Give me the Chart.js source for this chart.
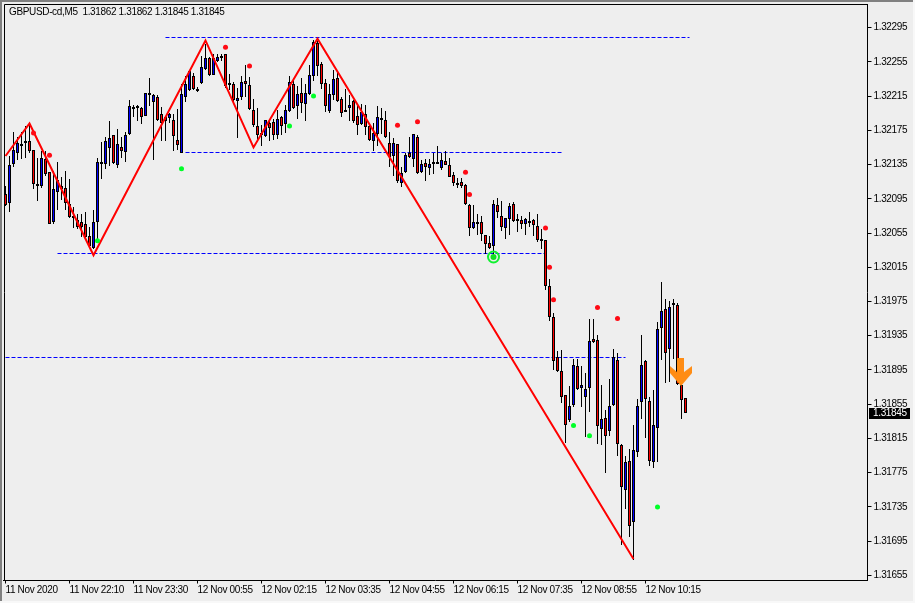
<!DOCTYPE html>
<html>
<head>
<meta charset="utf-8">
<title>GBPUSD-cd,M5</title>
<script src="https://cdn.jsdelivr.net/npm/chart.js@4"></script>
<style>
  html, body { margin: 0; padding: 0; background: #eeeeee; overflow: hidden; }
  canvas { display: block; }
</style>
</head>
<body>
<canvas id="price-chart" width="915" height="603"></canvas>
<script>
//Candles, oldest first
const opens = [1.32101,1.32090,1.32136,1.32149,1.32159,1.32163,1.32163,1.32152,1.32112,1.32110,
1.32142,1.32126,1.32068,1.32103,1.32110,1.32108,1.32089,1.32075,1.32070,1.32068,
1.32065,1.32052,1.32037,1.32068,1.32137,1.32136,1.32154,1.32170,1.32135,1.32156,
1.32150,1.32171,1.32202,1.32202,1.32201,1.32192,1.32216,1.32208,1.32214,1.32194,
1.32190,1.32189,1.32187,1.32164,1.32149,1.32214,1.32222,1.32238,1.32223,1.32230,
1.32247,1.32260,1.32240,1.32256,1.32262,1.32264,1.32230,1.32229,1.32209,1.32214,
1.32233,1.32228,1.32199,1.32180,1.32170,1.32168,1.32184,1.32185,1.32170,1.32191,
1.32182,1.32197,1.32229,1.32203,1.32219,1.32206,1.32217,1.32238,1.32277,1.32252,
1.32230,1.32197,1.32216,1.32236,1.32212,1.32199,1.32201,1.32209,1.32192,1.32182,
1.32194,1.32180,1.32162,1.32171,1.32189,1.32187,1.32160,1.32145,1.32159,1.32113,
1.32126,1.32148,1.32142,1.32167,1.32126,1.32137,1.32131,1.32137,1.32138,1.32131,
1.32139,1.32135,1.32123,1.32114,1.32115,1.32111,1.32088,1.32061,1.32065,1.32068,
1.32053,1.32043,1.32040,1.32088,1.32075,1.32061,1.32071,1.32089,1.32071,1.32070,
1.32065,1.32069,1.32070,1.32063,1.32048,1.32047,1.31993,1.31957,1.31910,1.31894,
1.31866,1.31836,1.31854,1.31900,1.31874,1.31863,1.31874,1.31931,1.31930,1.31826,
1.31839,1.31824,1.31854,1.31907,1.31807,1.31755,1.31789,1.31717,1.31799,1.31857,
1.31905,1.31859,1.31787,1.31827,1.31944,1.31966,1.31919,1.31973,1.31971,1.31877,1.31862];

const highs = [1.32110,1.32145,1.32173,1.32167,1.32173,1.32180,1.32182,1.32152,1.32143,1.32151,
1.32151,1.32126,1.32128,1.32138,1.32120,1.32128,1.32118,1.32085,1.32077,1.32077,
1.32079,1.32062,1.32082,1.32143,1.32161,1.32167,1.32186,1.32170,1.32177,1.32167,
1.32173,1.32210,1.32204,1.32204,1.32202,1.32219,1.32236,1.32217,1.32216,1.32202,
1.32192,1.32195,1.32194,1.32200,1.32229,1.32239,1.32244,1.32242,1.32226,1.32262,
1.32276,1.32261,1.32264,1.32264,1.32264,1.32264,1.32241,1.32231,1.32225,1.32239,
1.32251,1.32237,1.32212,1.32201,1.32181,1.32187,1.32187,1.32188,1.32199,1.32192,
1.32204,1.32239,1.32234,1.32227,1.32236,1.32229,1.32251,1.32280,1.32279,1.32255,
1.32235,1.32229,1.32245,1.32243,1.32214,1.32223,1.32216,1.32211,1.32206,1.32206,
1.32204,1.32183,1.32183,1.32203,1.32201,1.32197,1.32173,1.32166,1.32159,1.32132,
1.32149,1.32167,1.32171,1.32169,1.32140,1.32142,1.32142,1.32149,1.32157,1.32149,
1.32151,1.32143,1.32126,1.32119,1.32119,1.32112,1.32089,1.32088,1.32077,1.32075,
1.32053,1.32051,1.32094,1.32096,1.32092,1.32073,1.32090,1.32091,1.32077,1.32075,
1.32073,1.32079,1.32071,1.32077,1.32060,1.32047,1.32001,1.31961,1.31917,1.31918,
1.31866,1.31876,1.31908,1.31908,1.31900,1.31892,1.31955,1.31954,1.31936,1.31877,
1.31848,1.31885,1.31919,1.31915,1.31808,1.31794,1.31803,1.31831,1.31861,1.31936,
1.31907,1.31863,1.31872,1.31951,1.31998,1.31978,1.31976,1.31978,1.31973,1.31879,1.31862];

const lows = [1.32087,1.32080,1.32132,1.32140,1.32142,1.32143,1.32149,1.32107,1.32092,1.32108,
1.32122,1.32066,1.32066,1.32082,1.32093,1.32082,1.32073,1.32061,1.32060,1.32050,
1.32049,1.32038,1.32036,1.32046,1.32118,1.32130,1.32133,1.32136,1.32131,1.32143,
1.32138,1.32170,1.32190,1.32186,1.32182,1.32192,1.32203,1.32140,1.32186,1.32162,
1.32163,1.32184,1.32151,1.32152,1.32148,1.32208,1.32221,1.32222,1.32220,1.32229,
1.32246,1.32239,1.32240,1.32255,1.32256,1.32225,1.32222,1.32206,1.32166,1.32210,
1.32214,1.32199,1.32179,1.32163,1.32157,1.32167,1.32163,1.32164,1.32165,1.32169,
1.32172,1.32196,1.32200,1.32188,1.32195,1.32186,1.32216,1.32233,1.32239,1.32223,
1.32196,1.32195,1.32210,1.32208,1.32191,1.32197,1.32186,1.32184,1.32170,1.32181,
1.32169,1.32163,1.32151,1.32157,1.32171,1.32166,1.32132,1.32122,1.32114,1.32109,
1.32125,1.32143,1.32132,1.32124,1.32125,1.32116,1.32123,1.32124,1.32136,1.32129,
1.32134,1.32120,1.32110,1.32108,1.32108,1.32088,1.32052,1.32060,1.32053,1.32046,
1.32030,1.32036,1.32029,1.32072,1.32057,1.32048,1.32053,1.32068,1.32056,1.32060,
1.32053,1.32062,1.32052,1.32045,1.32036,1.31988,1.31952,1.31895,1.31893,1.31856,
1.31810,1.31834,1.31852,1.31872,1.31852,1.31817,1.31846,1.31927,1.31809,1.31807,
1.31775,1.31818,1.31853,1.31795,1.31690,1.31732,1.31700,1.31673,1.31793,1.31838,
1.31815,1.31783,1.31781,1.31788,1.31907,1.31880,1.31881,1.31908,1.31877,1.31838,1.31845];

const closes = [1.32088,1.32134,1.32152,1.32160,1.32157,1.32161,1.32151,1.32112,1.32110,1.32143,
1.32124,1.32066,1.32106,1.32117,1.32106,1.32090,1.32074,1.32072,1.32062,1.32062,
1.32050,1.32040,1.32068,1.32138,1.32138,1.32162,1.32166,1.32137,1.32159,1.32151,
1.32170,1.32203,1.32200,1.32203,1.32191,1.32219,1.32219,1.32216,1.32187,1.32183,
1.32186,1.32194,1.32168,1.32158,1.32217,1.32229,1.32244,1.32223,1.32222,1.32249,
1.32259,1.32240,1.32260,1.32261,1.32260,1.32227,1.32228,1.32211,1.32213,1.32232,
1.32229,1.32200,1.32181,1.32169,1.32172,1.32187,1.32178,1.32169,1.32188,1.32180,
1.32199,1.32232,1.32201,1.32218,1.32207,1.32219,1.32240,1.32278,1.32250,1.32229,
1.32203,1.32218,1.32235,1.32209,1.32195,1.32197,1.32204,1.32186,1.32181,1.32196,
1.32179,1.32164,1.32172,1.32190,1.32187,1.32167,1.32144,1.32160,1.32116,1.32125,
1.32146,1.32144,1.32171,1.32125,1.32136,1.32132,1.32136,1.32138,1.32137,1.32140,
1.32135,1.32121,1.32114,1.32112,1.32110,1.32089,1.32061,1.32068,1.32068,1.32054,
1.32042,1.32038,1.32089,1.32079,1.32062,1.32073,1.32087,1.32069,1.32070,1.32066,
1.32071,1.32068,1.32064,1.32047,1.32047,1.31993,1.31957,1.31905,1.31894,1.31863,
1.31831,1.31853,1.31901,1.31873,1.31878,1.31873,1.31929,1.31928,1.31829,1.31838,
1.31818,1.31853,1.31910,1.31808,1.31758,1.31788,1.31713,1.31801,1.31853,1.31901,
1.31861,1.31789,1.31831,1.31943,1.31964,1.31915,1.31969,1.31971,1.31879,1.31860,1.31845];

//Room on the axis for bars that have not printed yet
const slotCount = 216;
const barsPerTick = 16;
const timeTicks = ["11 Nov 2020","11 Nov 22:10","11 Nov 23:30","12 Nov 00:55","12 Nov 02:15","12 Nov 03:35","12 Nov 04:55","12 Nov 06:15","12 Nov 07:35","12 Nov 08:55","12 Nov 10:15"];
const priceTicks = [1.32295,1.32255,1.32215,1.32175,1.32135,1.32095,1.32055,1.32015,1.31975,1.31935,1.31895,1.31855,1.31815,1.31775,1.31735,1.31695,1.31655];
const priceMin = 1.31649;
const priceMax = 1.32322;

//Indicator marks, each one is a bar number and a price
const zigzagBars = [0,6,22,50,62,78,157];
const zigzagPrices = [1.32145,1.32183,1.32029,1.32280,1.32155,1.32282,1.31674];
const redDotBars = [7,11,55,61,98,103,115,116,135,136,137,148,153];
const redDotPrices = [1.32172,1.32146,1.32272,1.32250,1.32181,1.32185,1.32126,1.32100,1.32061,1.32015,1.31977,1.31968,1.31955];
const greenDotBars = [23,44,71,77,142,146,163];
const greenDotPrices = [1.32046,1.32130,1.32180,1.32215,1.31830,1.31818,1.31735];
const ringBars = [122];
const ringPrices = [1.32027];
const arrowBars = [169];
const arrowPrices = [1.31892];

//Horizontal dashed levels: first bar, last bar, price
const levelStarts = [40,45,13,0];
const levelEnds = [171,139,135,155];
const levelPrices = [1.32284,1.32149,1.32031,1.31910];

const titleText = "GBPUSD-cd,M5  1.31862 1.31862 1.31845 1.31845";
const lastPrice = closes[closes.length - 1];

const upColor = "#0000ff";
const downColor = "#ff0000";
const paperColor = "#eeeeee";
const labelFont = { family: "'Liberation Sans', Arial, sans-serif", size: 10 };

const placeMarks = (bars, prices) => {
  let out = new Array(slotCount).fill(null);
  bars.forEach((bar, n) => { out[bar] = prices[n]; });
  return out;
};

const buildArrow = () => {
  let arrow = document.createElement("canvas");
  arrow.width = 23;
  arrow.height = 29;
  let c = arrow.getContext("2d");
  let shape = [[7,0],[14,0],[14,14],[22,8],[22,15],[11,28],[0,15],[0,8],[7,14]];
  c.fillStyle = "#ff8c14";
  c.beginPath();
  shape.forEach(([x, y]) => c.lineTo(x, y));
  c.closePath();
  c.fill();
  return arrow;
};

const lineMarks = (label, bars, prices, style) => Object.assign({
  type: "line",
  label,
  data: placeMarks(bars, prices),
  showLine: false,
  spanGaps: true,
  pointRadius: 2.5,
  pointHoverRadius: 2.5,
  borderWidth: 0,
  order: 1
}, style);

const levelDatasets = levelPrices.map((price, n) => ({
  type: "line",
  label: "level" + n,
  isLevel: true,
  data: placeMarks([levelStarts[n], levelEnds[n]], [price, price]),
  spanGaps: true,
  pointRadius: 0,
  borderColor: "#0000ff",
  borderWidth: 1,
  borderDash: [4, 2],
  order: 6
}));

//Snap candles to whole pixels so they stay sharp like the terminal draws them
const snapPlugin = {
  id: "snapPlugin",
  afterDatasetsUpdate: (chart) => {
    chart.data.datasets.forEach((dataset, n) => {
      let meta = chart.getDatasetMeta(n);
      if (meta.type === "bar") {
        let minHeight = dataset.isBody ? 2 : 1;
        meta.data.forEach((bar) => {
          let top = Math.round(Math.min(bar.y, bar.base));
          let bottom = Math.max(Math.round(Math.max(bar.y, bar.base)), top + minHeight);
          bar.y = top;
          bar.base = bottom;
        });
      }
      if (dataset.isLevel) {
        meta.data.forEach((point) => { point.y = Math.floor(point.y) + 0.5; });
      }
    });
  }
};

const framePlugin = {
  id: "framePlugin",
  beforeDraw: (chart) => {
    const {ctx, width, height} = chart;
    ctx.save();
    ctx.fillStyle = paperColor;
    ctx.fillRect(0, 0, width, height);
    ctx.fillStyle = "#808080";
    ctx.fillRect(0, 0, width, 2);
    ctx.fillRect(0, 0, 2, height);
    ctx.fillStyle = "#f8f8f8";
    ctx.fillRect(0, 601, width, 2);
    ctx.fillRect(913, 0, 2, height);
    ctx.restore();
    //Terminal labels are tighter than Liberation Sans
    ctx.letterSpacing = "-0.35px";
  },
  afterDraw: (chart) => {
    const {ctx, chartArea} = chart;
    let priceY = chart.scales.y.getPixelForValue(lastPrice);
    ctx.save();
    ctx.strokeStyle = "#000000";
    ctx.lineWidth = 1;
    ctx.beginPath();
    ctx.moveTo(4.5, 580.5);
    ctx.lineTo(4.5, 4.5);
    ctx.lineTo(chartArea.right, 4.5);
    ctx.stroke();
    ctx.fillStyle = "#000000";
    ctx.fillRect(869, Math.round(priceY) - 5, 41, 11);
    ctx.font = labelFont.size + "px " + labelFont.family;
    ctx.textBaseline = "middle";
    ctx.fillStyle = "#ffffff";
    ctx.fillText(lastPrice.toFixed(5), 873, Math.round(priceY) + 0.5);
    ctx.fillStyle = "#000000";
    ctx.fillText(titleText, 9, 12.5);
    ctx.restore();
  }
};

new Chart(document.getElementById("price-chart"), {
  data: {
    labels: Array.from({length: slotCount}, (_, i) => i),
    datasets: [
      lineMarks("zigzag", zigzagBars, zigzagPrices, {
        showLine: true,
        pointRadius: 0,
        borderColor: "#ff0000",
        borderWidth: 2,
        order: 2
      }),
      lineMarks("sell", redDotBars, redDotPrices, {pointBackgroundColor: "#ff0a14"}),
      lineMarks("buy", greenDotBars, greenDotPrices, {pointBackgroundColor: "#00ff28"}),
      lineMarks("signal", ringBars, ringPrices, {pointBackgroundColor: "#10e020", pointRadius: 3}),
      lineMarks("signal ring", ringBars, ringPrices, {
        pointBackgroundColor: "rgba(0,0,0,0)",
        pointBorderColor: "#10f030",
        pointBorderWidth: 2,
        pointRadius: 5.5
      }),
      lineMarks("arrow", arrowBars, arrowPrices, {pointStyle: buildArrow(), order: 0}),
      {
        type: "bar",
        label: "body",
        isBody: true,
        data: opens.map((open, i) => [open, closes[i]]),
        backgroundColor: opens.map((open, i) => closes[i] > open ? upColor : downColor),
        borderColor: "#000000",
        borderWidth: 1,
        borderSkipped: false,
        barThickness: 3,
        grouped: false,
        inflateAmount: 0,
        order: 3
      },
      {
        type: "bar",
        label: "wick",
        data: lows.map((low, i) => [low, highs[i]]),
        backgroundColor: "#000000",
        borderWidth: 0,
        barThickness: 1,
        grouped: false,
        inflateAmount: 0,
        order: 4
      },
      ...levelDatasets
    ]
  },
  plugins: [snapPlugin, framePlugin],
  options: {
    responsive: false,
    animation: false,
    events: [],
    layout: { autoPadding: false, padding: { left: 3.5, top: 4.5, right: 0, bottom: 0 } },
    scales: {
      x: {
        type: "category",
        offset: true,
        afterFit: (scale) => {
          scale.height = 22.5;
          scale.paddingLeft = 0;
          scale.paddingRight = 0;
        },
        afterBuildTicks: (scale) => {
          scale.ticks = timeTicks.map((_, n) => ({ value: n * barsPerTick }));
        },
        border: { color: "#000000" },
        grid: { drawOnChartArea: false, drawTicks: true, tickLength: 3, tickColor: "#000000", offset: false },
        ticks: {
          autoSkip: false,
          maxRotation: 0,
          align: "start",
          padding: 1,
          color: "#000000",
          font: labelFont,
          callback: (value) => timeTicks[value / barsPerTick]
        }
      },
      y: {
        position: "right",
        min: priceMin,
        max: priceMax,
        afterFit: (scale) => {
          scale.width = 47.5;
          scale.paddingTop = 0;
          scale.paddingBottom = 0;
        },
        afterBuildTicks: (scale) => {
          scale.ticks = priceTicks.map((value) => ({ value }));
        },
        border: { color: "#000000" },
        grid: { drawOnChartArea: false, drawTicks: true, tickLength: 4, tickColor: "#000000" },
        ticks: {
          padding: 2,
          color: "#000000",
          font: labelFont,
          callback: (value) => value.toFixed(5)
        }
      }
    },
    plugins: {
      legend: { display: false },
      tooltip: { enabled: false }
    }
  }
});
</script>
</body>
</html>
